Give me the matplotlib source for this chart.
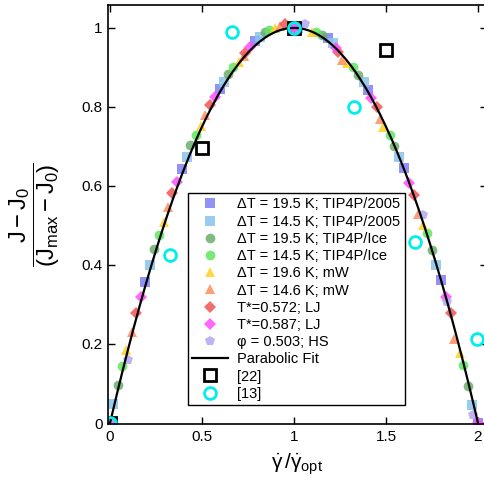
import numpy as np
import matplotlib
matplotlib.use('Agg')
import matplotlib.pyplot as plt

plt.rcParams['font.family'] = ['Liberation Sans', 'DejaVu Sans']
plt.rcParams['mathtext.fontset'] = 'custom'
plt.rcParams['mathtext.rm'] = 'Liberation Sans'
plt.rcParams['mathtext.it'] = 'Liberation Sans'
plt.rcParams['mathtext.bf'] = 'Liberation Sans:bold'

# simulation data
tip2005_195_x = [0.0, 0.19, 0.39, 0.60, 0.79, 1.0, 1.185, 1.40, 1.60, 1.80, 2.0]
tip2005_195_y = [0.0, 0.357, 0.643, 0.845, 0.967, 1.0, 0.975, 0.843, 0.645, 0.362, 0.0]
tip2005_145_x = [0.016, 0.217, 0.418, 0.62, 0.815, 1.02, 1.21, 1.38, 1.57, 1.77, 1.967]
tip2005_145_y = [0.048, 0.40, 0.674, 0.863, 0.977, 1.0, 0.962, 0.863, 0.673, 0.40, 0.046]
ice_195_x = [0.045, 0.24, 0.435, 0.64, 0.842, 1.15, 1.35, 1.545, 1.75, 1.945]
ice_195_y = [0.096, 0.44, 0.704, 0.884, 0.99, 0.982, 0.88, 0.70, 0.438, 0.094]
ice_145_x = [0.065, 0.266, 0.47, 0.67, 0.864, 1.12, 1.32, 1.52, 1.725, 1.92]
ice_145_y = [0.144, 0.476, 0.73, 0.90, 0.995, 0.99, 0.90, 0.73, 0.48, 0.147]
mw_196_x = [0.087, 0.293, 0.495, 0.70, 0.897, 1.10, 1.29, 1.485, 1.70, 1.90]
mw_196_y = [0.185, 0.51, 0.752, 0.914, 1.0, 0.99, 0.91, 0.75, 0.50, 0.177]
mw_146_x = [0.118, 0.315, 0.516, 0.73, 0.924, 1.26, 1.47, 1.675, 1.87]
mw_146_y = [0.23, 0.547, 0.78, 0.93, 1.005, 0.92, 0.77, 0.53, 0.213]
lj_572_x = [0.14, 0.337, 0.543, 0.734, 0.95, 1.24, 1.45, 1.65, 1.853]
lj_572_y = [0.278, 0.582, 0.805, 0.937, 1.01, 0.94, 0.80, 0.577, 0.278]
lj_587_x = [0.0, 0.167, 0.364, 0.57, 0.76, 1.0, 1.23, 1.42, 1.625, 1.826, 2.0]
lj_587_y = [0.0, 0.32, 0.61, 0.825, 0.952, 1.0, 0.95, 0.823, 0.608, 0.32, 0.0]
hs_x = [0.0, 0.097, 1.06, 1.70, 1.83, 1.975]
hs_y = [0.0, 0.16, 1.01, 0.527, 0.306, 0.02]

# literature data
ref22_x = [0.0, 0.5, 1.0, 1.5]
ref22_y = [0.0, 0.695, 1.0, 0.945]
ref13_x = [0.0, 0.326, 0.663, 1.0, 1.326, 1.658, 1.995]
ref13_y = [0.0, 0.425, 0.99, 1.0, 0.80, 0.458, 0.213]

# parabolic fit coefficients (highest power first)
fit_coeffs = [-1.0, 2.0, 0.0]

series = [
    (tip2005_195_x, tip2005_195_y, 's', '#7f7ff5', 6.5, r'ΔT = 19.5 K; TIP4P/2005'),
    (tip2005_145_x, tip2005_145_y, 's', '#88c4ee', 6.5, r'ΔT = 14.5 K; TIP4P/2005'),
    (ice_195_x, ice_195_y, 'o', '#6aae6a', 7, r'ΔT = 19.5 K; TIP4P/Ice'),
    (ice_145_x, ice_145_y, 'o', '#5ee65e', 7, r'ΔT = 14.5 K; TIP4P/Ice'),
    (mw_196_x, mw_196_y, '^', '#ffd21f', 7.5, r'ΔT = 19.6 K; mW'),
    (mw_146_x, mw_146_y, '^', '#ff8c5a', 7.5, r'ΔT = 14.6 K; mW'),
    (lj_572_x, lj_572_y, 'D', '#f05555', 6, r'T*=0.572; LJ'),
    (lj_587_x, lj_587_y, 'D', '#ff4dff', 6, r'T*=0.587; LJ'),
    (hs_x, hs_y, 'p', '#b4a6f2', 7.5, r'φ = 0.503; HS'),
]

fig = plt.figure(figsize=(4.85, 4.79), dpi=100)
ax = fig.add_axes([108 / 485, 1 - 424 / 479, (487 - 108) / 485, (424 - 5) / 479])

for xs, ys, m, c, ms, lab in series:
    ax.plot(xs, ys, linestyle='none', marker=m, color=c, markersize=ms,
            markeredgewidth=0, alpha=0.85, label=lab)

xfit = np.linspace(0, 2, 201)
ax.plot(xfit, np.polyval(fit_coeffs, xfit), color='black', linewidth=1.6, label='Parabolic Fit')

ax.plot(ref22_x, ref22_y, linestyle='none', marker='s', markersize=9,
        markerfacecolor='none', markeredgecolor='black', markeredgewidth=2, label='[22]')
ax.plot(ref13_x, ref13_y, linestyle='none', marker='o', markersize=8.5,
        markerfacecolor='none', markeredgecolor='#00eeee', markeredgewidth=2, label='[13]')

ax.set_xlim(-0.011, 2.049)
ax.set_ylim(-0.0025, 1.058)
ax.set_xticks([0, 0.5, 1, 1.5, 2])
ax.set_xticklabels(['0', '0.5', '1', '1.5', '2'])
ax.set_yticks([0, 0.2, 0.4, 0.6, 0.8, 1])
ax.set_yticklabels(['0', '0.2', '0.4', '0.6', '0.8', '1'])
ax.tick_params(direction='in', top=True, right=True, length=5, width=1,
               labelsize=11, pad=4)
for s in ax.spines.values():
    s.set_linewidth(1.2)

ax.set_xlabel(r'$\dot{\gamma}\,/\dot{\gamma}_{opt}$', fontsize=15, labelpad=6)
ax.set_ylabel(r'$\dfrac{J - J_0}{(J_{max} - J_0)}$', fontsize=17, labelpad=14)

leg = ax.legend(loc='lower left', bbox_to_anchor=(0.21, 0.045), borderaxespad=0,
                fontsize=10.5, frameon=True, fancybox=False, edgecolor='black',
                handlelength=2.5, handletextpad=0.6, labelspacing=0.22,
                borderpad=0.3, numpoints=1)
leg.get_frame().set_linewidth(1.0)
leg.get_frame().set_alpha(1)

fig.savefig('out.png', dpi=100)
